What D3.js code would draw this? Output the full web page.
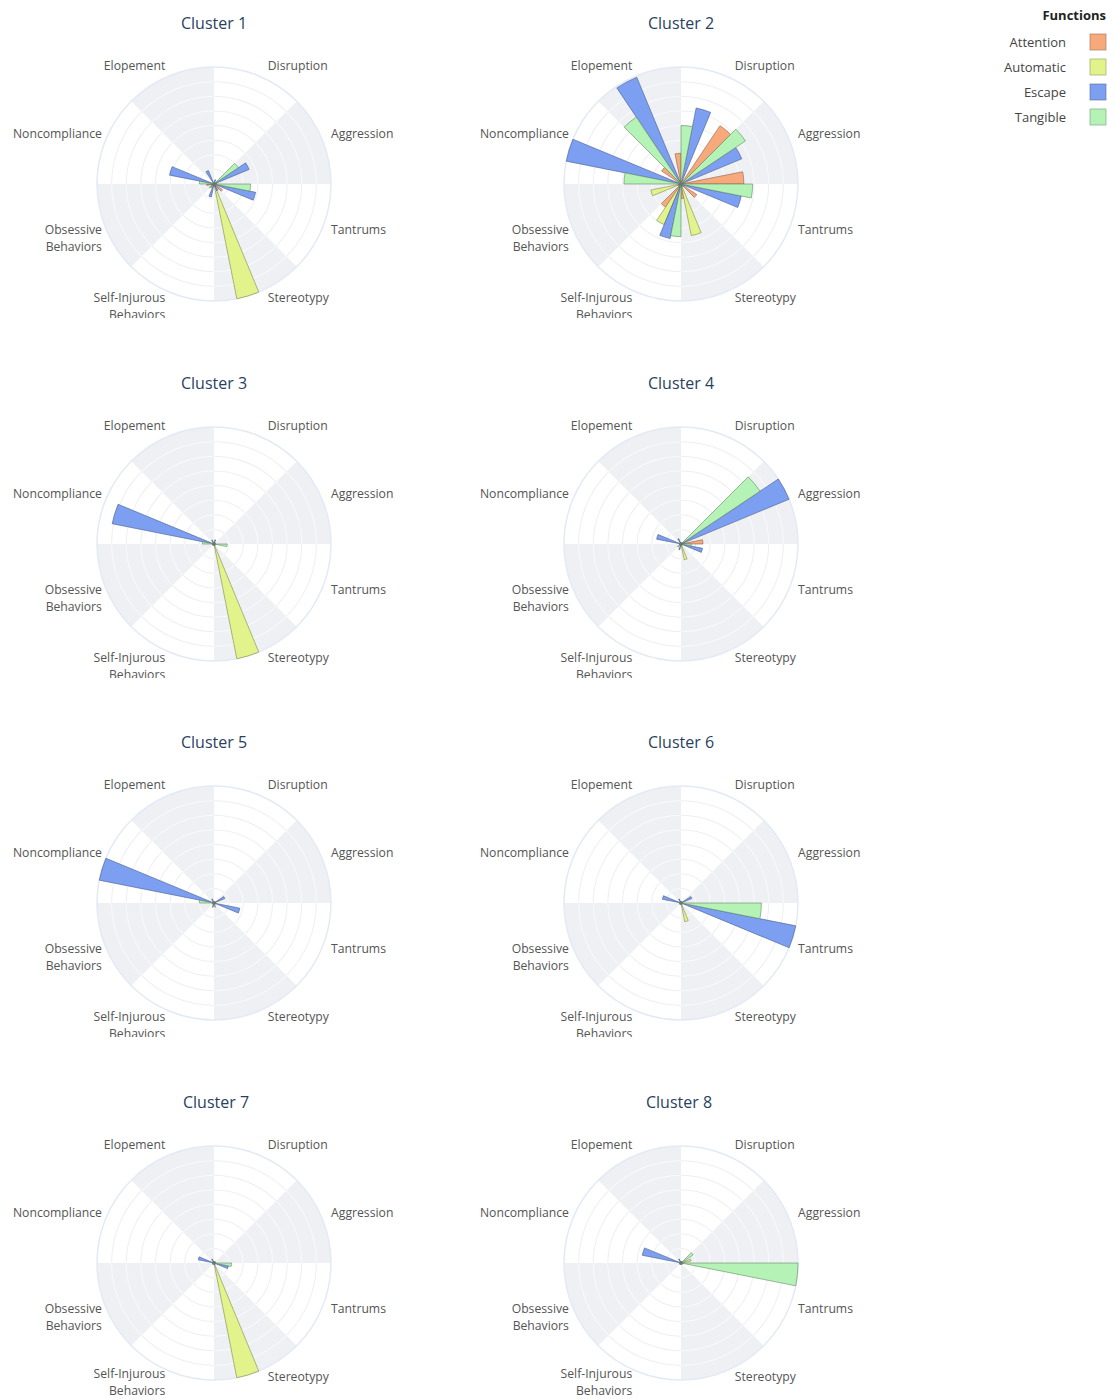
<!DOCTYPE html>
<html>
<head>
<meta charset="utf-8">
<script src="https://cdn.jsdelivr.net/npm/d3@7"></script>
<style>
  body { margin: 0; background: #ffffff; }
  svg text { font-family: "Open Sans", "Noto Sans", sans-serif; }
</style>
</head>
<body>
<svg id="chart" width="1116" height="1399"></svg>
<script>
// Behaviour categories around each wind rose, clockwise from 12 o'clock
const behaviors = ["Disruption", "Aggression", "Tantrums", "Stereotypy",
  "Self-Injurous Behaviors", "Obsessive Behaviors", "Noncompliance", "Elopement"];
// Maintaining functions (legend order)
const functions = ["Attention", "Automatic", "Escape", "Tangible"];
// Order of the four bars inside one behaviour sector, clockwise
const slotOrder = ["Tangible", "Escape", "Automatic", "Attention"];
const functionColors = ["#F7A97C", "#E2F38B", "#7C9FF1", "#B5F2B5"];
const clusterTitles = ["Cluster 1", "Cluster 2", "Cluster 3", "Cluster 4",
  "Cluster 5", "Cluster 6", "Cluster 7", "Cluster 8"];

// One row per function (Attention, Automatic, Escape, Tangible),
// one column per behaviour (same order as `behaviors`)
const cluster1 = [
  [0.01, 0.02, 0.07, 0.01, 0.03, 0.05, 0.01, 0.01],
  [0.01, 0, 0.01, 0.80, 0.01, 0.01, 0.01, 0],
  [0.03, 0.26, 0.29, 0.05, 0.09, 0.02, 0.31, 0.10],
  [0.01, 0.20, 0.25, 0.01, 0.01, 0.04, 0.10, 0.01]
];
const cluster2 = [
  [0.48, 0.43, 0.13, 0.10, 0.19, 0.02, 0.16, 0.21],
  [0.01, 0.01, 0.02, 0.36, 0.30, 0.21, 0.01, 0.01],
  [0.53, 0.45, 0.42, 0.02, 0.38, 0.02, 0.80, 0.79],
  [0.40, 0.53, 0.49, 0.02, 0.36, 0.02, 0.39, 0.55]
];
const cluster3 = [
  [0.01, 0.01, 0.01, 0.01, 0.01, 0.01, 0.01, 0.01],
  [0.01, 0, 0.01, 0.80, 0.01, 0.01, 0, 0.01],
  [0.03, 0.01, 0.01, 0.01, 0.01, 0.01, 0.71, 0.03],
  [0.01, 0.01, 0.09, 0.01, 0.01, 0.01, 0.08, 0.01]
];
const cluster4 = [
  [0.01, 0.15, 0.01, 0.01, 0.01, 0.01, 0.01, 0.01],
  [0, 0.01, 0.01, 0.11, 0.01, 0.01, 0, 0.01],
  [0.01, 0.80, 0.15, 0.01, 0.04, 0.01, 0.17, 0.04],
  [0.01, 0.65, 0.07, 0.01, 0.01, 0.03, 0.01, 0.01]
];
const cluster5 = [
  [0.01, 0.01, 0.01, 0.01, 0.01, 0.01, 0.01, 0.01],
  [0.01, 0.01, 0.01, 0.03, 0.01, 0.01, 0, 0.01],
  [0.01, 0.08, 0.18, 0.01, 0.03, 0.01, 0.80, 0.03],
  [0.01, 0.01, 0.01, 0.01, 0.01, 0.01, 0.10, 0.01]
];
const cluster6 = [
  [0.01, 0.01, 0.01, 0.01, 0.01, 0.01, 0.01, 0.01],
  [0.01, 0.01, 0.01, 0.13, 0.01, 0.01, 0, 0.01],
  [0.01, 0.08, 0.80, 0.01, 0.01, 0.01, 0.13, 0.03],
  [0.01, 0.01, 0.55, 0.01, 0.01, 0.01, 0.01, 0.01]
];
const cluster7 = [
  [0.01, 0.01, 0.01, 0.01, 0.01, 0.01, 0.01, 0.01],
  [0.01, 0.01, 0.01, 0.80, 0.01, 0.01, 0, 0.01],
  [0.01, 0.01, 0.10, 0.01, 0.01, 0.01, 0.11, 0.03],
  [0.01, 0.01, 0.12, 0.01, 0.01, 0.01, 0.01, 0.01]
];
const cluster8 = [
  [0.01, 0.01, 0.01, 0.01, 0.01, 0.01, 0.01, 0.01],
  [0.01, 0.07, 0.01, 0.01, 0.01, 0.01, 0, 0.01],
  [0.01, 0.01, 0.01, 0.01, 0.01, 0.01, 0.27, 0.03],
  [0.01, 0.10, 0.80, 0.01, 0.01, 0.01, 0.01, 0.01]
];
const clusters = [cluster1, cluster2, cluster3, cluster4, cluster5, cluster6, cluster7, cluster8];

// ---- layout ----
const svg = d3.select("#chart");
const R = 117;
const colX = [214, 681];
const rowY = [184, 544, 903, 1263];
const titleShift = [0, 0, 0, 0, 0, 0, 2, -2];

const sectorScale = d3.scaleBand().domain(behaviors).range([0, 2 * Math.PI]);
const slotScale = d3.scaleBand().domain(slotOrder).range([0, sectorScale.bandwidth()]);
const color = d3.scaleOrdinal().domain(functions).range(functionColors);

const defs = svg.append("defs");

clusters.forEach((values, ci) => {
  const cx = colX[ci % 2];
  const cy = rowY[Math.floor(ci / 2)];
  const lastRow = ci >= 6;
  const g = svg.append("g").attr("transform", `translate(${cx},${cy})`);

  const maxVal = d3.max(values.flat());
  const rScale = d3.scaleLinear().domain([0, maxVal]).range([0, R]);

  // alternating sector shading
  const sectorArc = d3.arc().innerRadius(0).outerRadius(R);
  g.selectAll("path.sector").data(behaviors).join("path")
    .attr("class", "sector")
    .attr("d", b => sectorArc({
      startAngle: sectorScale(b),
      endAngle: sectorScale(b) + sectorScale.bandwidth()
    }))
    .attr("fill", (b, i) => i % 2 === 1 ? "#EEF0F4" : "#FFFFFF");

  // radial gridlines: pale grey over white sectors, near white over shaded ones
  const ticks = rScale.ticks(8).filter(t => t > 0 && t < maxVal);
  const rings = [];
  ticks.forEach(t => behaviors.forEach((b, i) => rings.push({ t, b, shaded: i % 2 === 1 })));
  const ringArc = d3.arc()
    .innerRadius(d => rScale(d.t) - 0.5)
    .outerRadius(d => rScale(d.t) + 0.5)
    .startAngle(d => sectorScale(d.b))
    .endAngle(d => sectorScale(d.b) + sectorScale.bandwidth());
  g.selectAll("path.grid").data(rings).join("path")
    .attr("class", "grid")
    .attr("d", ringArc)
    .attr("fill", d => d.shaded ? "#F8F9FB" : "#EDEFF3");

  g.append("circle").attr("r", R).attr("fill", "none")
    .attr("stroke", "#E3EAF5").attr("stroke-width", 1.5);

  // bars
  const bars = [];
  values.forEach((row, fi) => {
    row.forEach((v, bi) => {
      if (v > 0) bars.push({ f: functions[fi], b: behaviors[bi], v });
    });
  });
  const barArc = d3.arc().innerRadius(0);
  g.selectAll("path.bar").data(bars).join("path")
    .attr("class", "bar")
    .attr("d", d => {
      const a0 = sectorScale(d.b) + slotScale(d.f);
      return barArc({ startAngle: a0, endAngle: a0 + slotScale.bandwidth(),
        outerRadius: rScale(Math.min(d.v, maxVal)) });
    })
    .attr("fill", d => color(d.f))
    .attr("stroke", d => d3.color(color(d.f)).darker(1.8).formatHex())
    .attr("stroke-opacity", 0.7)
    .attr("stroke-width", 0.8)
    .attr("stroke-linejoin", "round");

  // angular labels; the upper rows are clipped where the next subplot begins
  const lg = g.append("g");
  if (!lastRow) {
    const clipId = "clip" + ci;
    defs.append("clipPath").attr("id", clipId)
      .append("rect").attr("x", -220).attr("y", -175).attr("width", 440).attr("height", 309);
    lg.attr("clip-path", `url(#${clipId})`);
  }
  behaviors.forEach(b => {
    const a = sectorScale(b) + sectorScale.bandwidth() / 2;
    const s = Math.sin(a), c = Math.cos(a);
    const x = R * s + (s > 0 ? 9 : -4);
    // on the bottom row the two-line label at the foot is lifted to stay on the page
    const lift = lastRow && c < -0.5 && b.includes(" ") ? 3 : 0;
    const y = -(R + 8.7) * c - 2 - lift;
    const t = lg.append("text")
      .attr("x", x).attr("y", y)
      .attr("text-anchor", s > 0 ? "start" : "end")
      .attr("font-size", 12.2)
      .attr("fill", "#555555");
    const words = b.split(" ");
    const lines = words.length > 1 ? [words[0], words.slice(1).join(" ")] : [b];
    lines.forEach((ln, li) => {
      t.append("tspan").attr("x", x)
        .attr("dy", li === 0 ? "0.35em" : 16.5)
        .text(ln);
    });
  });

  // subplot title
  svg.append("text")
    .attr("x", cx + titleShift[ci]).attr("y", cy - 161)
    .attr("text-anchor", "middle")
    .attr("dominant-baseline", "central")
    .attr("font-size", 16)
    .attr("fill", "#2A3F5F")
    .text(clusterTitles[ci]);
});

// ---- legend ----
const legend = svg.append("g");
legend.append("text")
  .attr("x", 1106).attr("y", 15)
  .attr("text-anchor", "end").attr("dominant-baseline", "central")
  .attr("font-size", 13).attr("font-weight", "bold").attr("fill", "#222")
  .text("Functions");
const legendY = d3.scalePoint().domain(functions).range([42, 117]);
const items = legend.selectAll("g.item").data(functions).join("g").attr("class", "item")
  .attr("transform", f => `translate(0,${legendY(f)})`);
items.append("text")
  .attr("x", 1066).attr("y", 0)
  .attr("text-anchor", "end").attr("dominant-baseline", "central")
  .attr("font-size", 13).attr("fill", "#444")
  .text(f => f);
items.append("rect")
  .attr("x", 1090).attr("y", -8).attr("width", 16).attr("height", 16)
  .attr("fill", f => color(f))
  .attr("stroke", f => d3.color(color(f)).darker(1.2).formatHex())
  .attr("stroke-opacity", 0.6)
  .attr("stroke-width", 1);
</script>
</body>
</html>
